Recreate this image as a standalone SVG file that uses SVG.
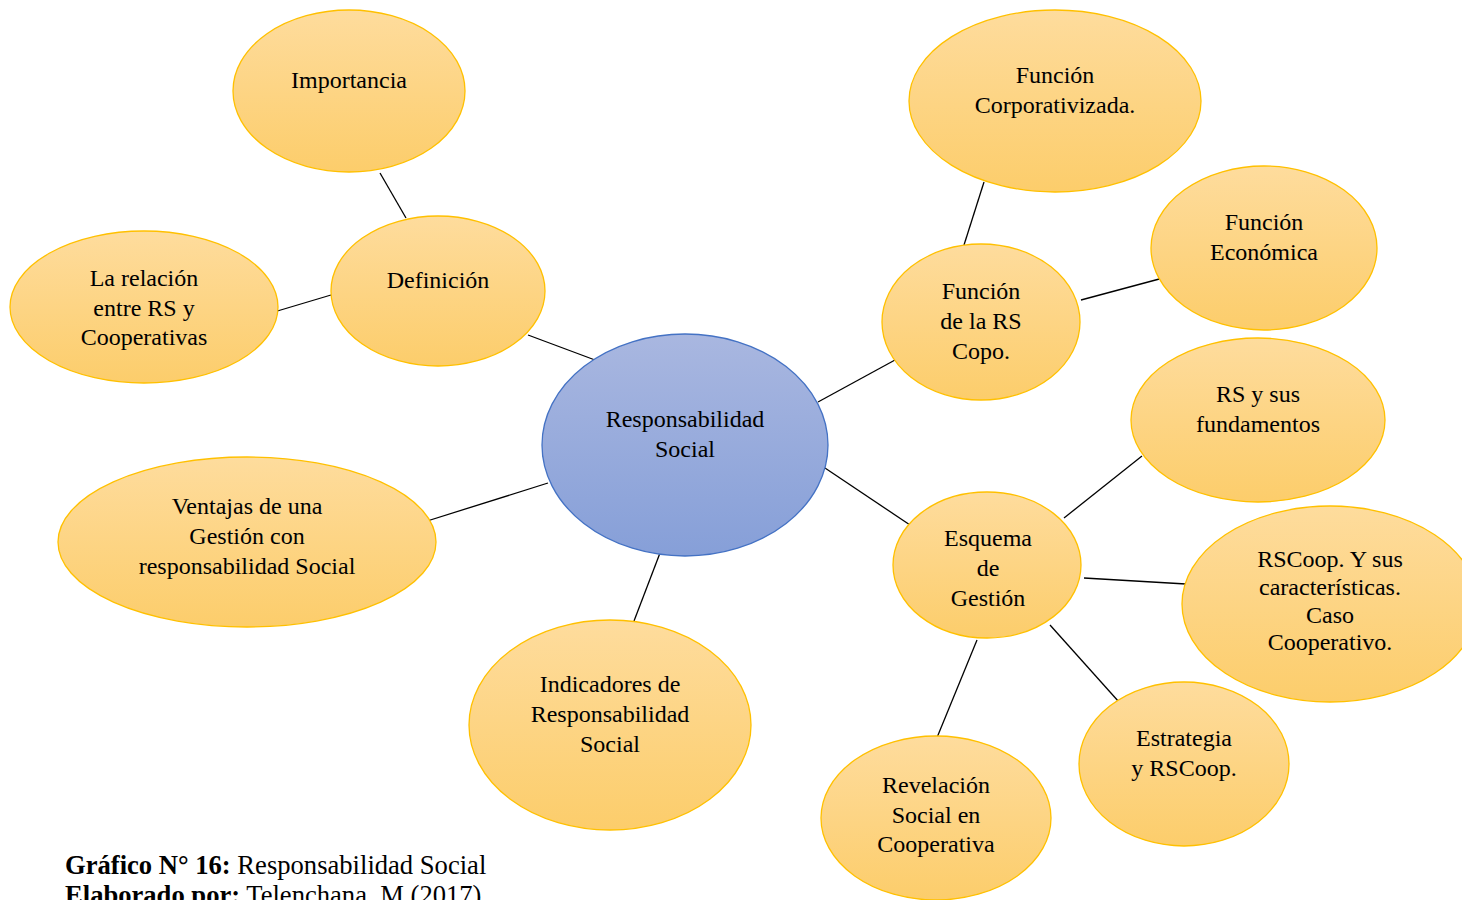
<svg xmlns="http://www.w3.org/2000/svg" width="1462" height="900" viewBox="0 0 1462 900">
  <defs>
    <linearGradient id="gOrange" x1="0" y1="0" x2="0" y2="1">
      <stop offset="0" stop-color="#FEDC9D"/>
      <stop offset="1" stop-color="#FCCD6B"/>
    </linearGradient>
    <linearGradient id="gBlue" x1="0" y1="0" x2="0" y2="1">
      <stop offset="0" stop-color="#A9B7E0"/>
      <stop offset="1" stop-color="#869FD8"/>
    </linearGradient>
  </defs>
  <style>
    .leaf { fill: url(#gOrange); stroke: #FFC000; stroke-width: 1.3; }
    .hub { fill: url(#gBlue); stroke: #4472C4; stroke-width: 1.3; }
    .lbl { font-family: "Liberation Serif", "Times New Roman", serif; font-size: 24px; fill: #000; text-anchor: middle; }
    .cap { font-family: "Liberation Serif", "Times New Roman", serif; font-size: 26.6px; fill: #000; }
    .conn line { stroke: #000; stroke-width: 1.3; }
  </style>
  <rect width="1462" height="900" fill="#fff"/>

  <!-- connectors -->
  <g id="connectors" class="conn">
    <line x1="380" y1="173" x2="406" y2="218"/>
    <line x1="274" y1="312" x2="331" y2="295"/>
    <line x1="528" y1="335" x2="595" y2="360"/>
    <line x1="424" y1="522" x2="548" y2="483"/>
    <line x1="634" y1="621" x2="660" y2="553"/>
    <line x1="818" y1="402" x2="895" y2="360"/>
    <line x1="964" y1="245" x2="984" y2="182"/>
    <line x1="1081" y1="300" x2="1163" y2="278"/>
    <line x1="822" y1="466" x2="916" y2="529"/>
    <line x1="1064" y1="518" x2="1142" y2="456"/>
    <line x1="1084" y1="578" x2="1186" y2="584"/>
    <line x1="1050" y1="625" x2="1119" y2="702"/>
    <line x1="977" y1="640" x2="936" y2="740"/>
  </g>

  <g id="importancia">
    <ellipse class="leaf" cx="349" cy="91" rx="116" ry="81"/>
    <text class="lbl" x="349" y="88">Importancia</text>
  </g>
  <g id="definicion">
    <ellipse class="leaf" cx="438" cy="291" rx="107" ry="75"/>
    <text class="lbl" x="438" y="288">Definición</text>
  </g>
  <g id="relacion">
    <ellipse class="leaf" cx="144" cy="307" rx="134" ry="76"/>
    <text class="lbl" x="144" y="286">La relación</text>
    <text class="lbl" x="144" y="316">entre RS y</text>
    <text class="lbl" x="144" y="345">Cooperativas</text>
  </g>
  <g id="responsabilidad">
    <ellipse class="hub" cx="685" cy="445" rx="143" ry="111"/>
    <text class="lbl" x="685" y="427">Responsabilidad</text>
    <text class="lbl" x="685" y="457">Social</text>
  </g>
  <g id="ventajas">
    <ellipse class="leaf" cx="247" cy="542" rx="189" ry="85"/>
    <text class="lbl" x="247" y="514">Ventajas de una</text>
    <text class="lbl" x="247" y="544">Gestión con</text>
    <text class="lbl" x="247" y="574">responsabilidad Social</text>
  </g>
  <g id="indicadores">
    <ellipse class="leaf" cx="610" cy="725" rx="141" ry="105"/>
    <text class="lbl" x="610" y="692">Indicadores de</text>
    <text class="lbl" x="610" y="722">Responsabilidad</text>
    <text class="lbl" x="610" y="752">Social</text>
  </g>
  <g id="funcion-corporativizada">
    <ellipse class="leaf" cx="1055" cy="101" rx="146" ry="91"/>
    <text class="lbl" x="1055" y="83">Función</text>
    <text class="lbl" x="1055" y="113">Corporativizada.</text>
  </g>
  <g id="funcion-rs">
    <ellipse class="leaf" cx="981" cy="322" rx="99" ry="78"/>
    <text class="lbl" x="981" y="299">Función</text>
    <text class="lbl" x="981" y="329">de la RS</text>
    <text class="lbl" x="981" y="359">Copo.</text>
  </g>
  <g id="funcion-economica">
    <ellipse class="leaf" cx="1264" cy="248" rx="113" ry="82"/>
    <text class="lbl" x="1264" y="230">Función</text>
    <text class="lbl" x="1264" y="260">Económica</text>
  </g>
  <g id="fundamentos">
    <ellipse class="leaf" cx="1258" cy="420" rx="127" ry="82"/>
    <text class="lbl" x="1258" y="402">RS y sus</text>
    <text class="lbl" x="1258" y="432">fundamentos</text>
  </g>
  <g id="esquema">
    <ellipse class="leaf" cx="987" cy="565" rx="94" ry="73"/>
    <text class="lbl" x="988" y="546">Esquema</text>
    <text class="lbl" x="988" y="576">de</text>
    <text class="lbl" x="988" y="606">Gestión</text>
  </g>
  <g id="rscoop">
    <ellipse class="leaf" cx="1330" cy="604" rx="148" ry="98"/>
    <text class="lbl" x="1330" y="567">RSCoop. Y sus</text>
    <text class="lbl" x="1330" y="595">características.</text>
    <text class="lbl" x="1330" y="623">Caso</text>
    <text class="lbl" x="1330" y="650">Cooperativo.</text>
  </g>
  <g id="estrategia">
    <ellipse class="leaf" cx="1184" cy="764" rx="105" ry="82"/>
    <text class="lbl" x="1184" y="746">Estrategia</text>
    <text class="lbl" x="1184" y="776">y RSCoop.</text>
  </g>
  <g id="revelacion">
    <ellipse class="leaf" cx="936" cy="818" rx="115" ry="82"/>
    <text class="lbl" x="936" y="793">Revelación</text>
    <text class="lbl" x="936" y="823">Social en</text>
    <text class="lbl" x="936" y="852">Cooperativa</text>
  </g>

  <!-- figure caption; the second line runs past the bottom edge of the page -->
  <g id="caption">
    <text class="cap" x="65" y="874"><tspan font-weight="bold">Gráfico N° 16:</tspan> Responsabilidad Social</text>
    <text class="cap" x="65" y="904"><tspan font-weight="bold">Elaborado por:</tspan> Telenchana, M (2017)</text>
  </g>
</svg>
